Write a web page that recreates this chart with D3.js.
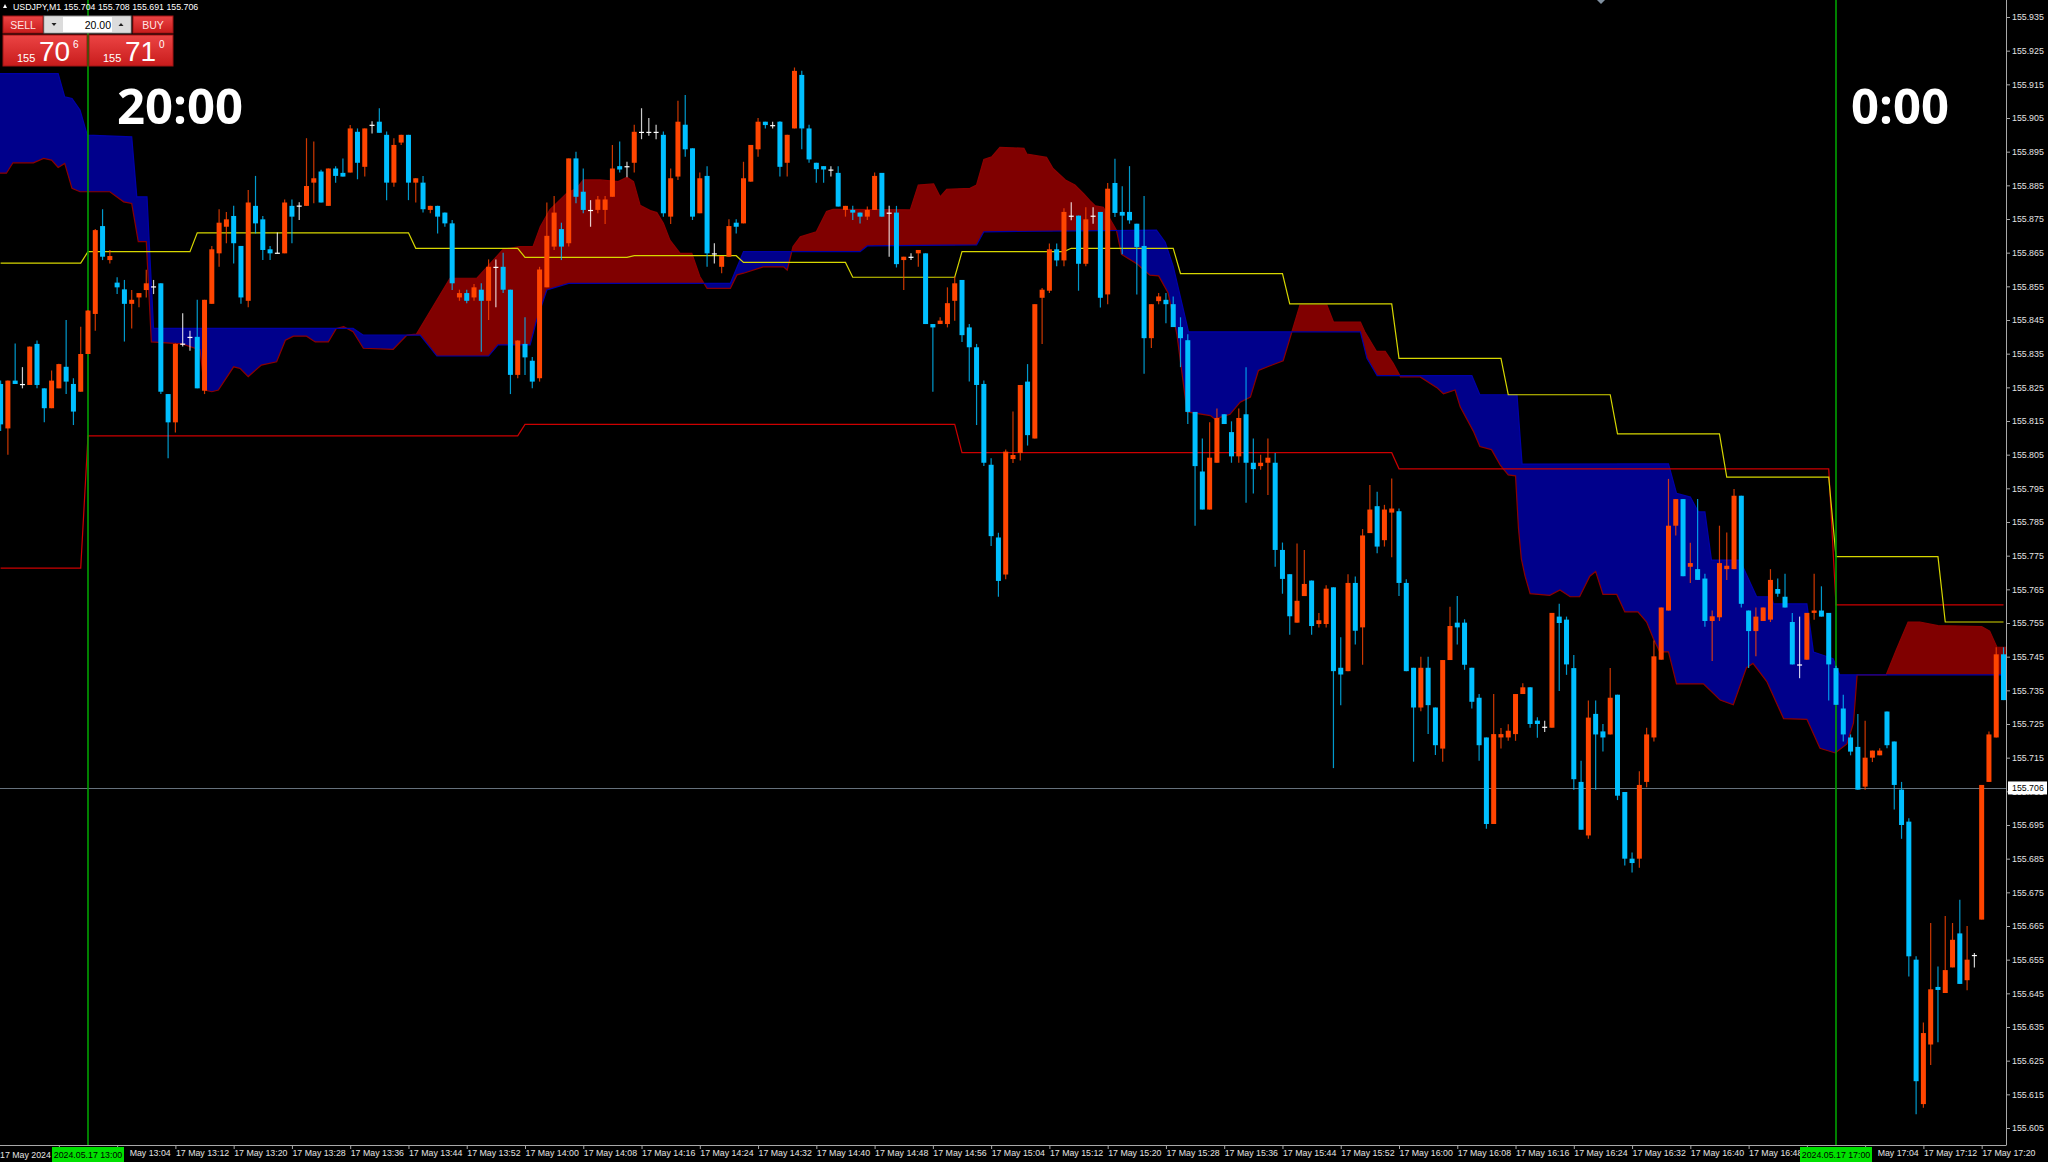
<!DOCTYPE html>
<html>
<head>
<meta charset="utf-8">
<title>USDJPY,M1</title>
<script src="https://d3js.org/d3.v7.min.js"></script>
<style type="text/css">
  body { margin: 0; background-color: #000000; }
  svg { display: block; }
  text { font-family: 'Liberation Sans', Arial, sans-serif; }
</style>
</head>
<body>
<div id="chart"></div>
<script>
  // ---- data ----
  var symbol = "USDJPY,M1";
  var lastQuote = [155.704, 155.708, 155.691, 155.706];   // O H L C of the live bar
  var bid = 155.706;
  var lotSize = "20.00";
  var sellQuote = ["155", "70", "6"];
  var buyQuote = ["155", "71", "0"];
  var firstBar = new Date(2024, 4, 17, 12, 48);   // one bar per minute from here

  var opens = [155.826,155.8128,155.827,155.826,155.8257,155.8379,155.8247,155.8188,155.8247,155.8311,155.826,155.8237,
    155.8349,155.8468,155.8729,155.8628,155.8561,155.8541,155.8498,155.8517,155.8539,155.855,155.8559,155.823,
    155.8146,155.838,155.84,155.84,155.824,155.8498,155.8648,155.8727,155.8759,155.867,155.8507,155.8789,
    155.8749,155.866,155.865,155.8648,155.8789,155.879,155.8789,155.8858,155.8891,155.8789,155.89,155.8887,
    155.8888,155.9009,155.8905,155.903,155.9039,155.9,155.8858,155.8977,155.9,155.8858,155.8858,155.8777,
    155.8789,155.8769,155.8737,155.8517,155.853,155.8517,155.854,155.8507,155.8608,155.8608,155.854,155.8287,
    155.8379,155.8329,155.8277,155.8547,155.8668,155.872,155.8678,155.893,155.8831,155.8777,155.8777,155.8777,
    155.8816,155.8907,155.8907,155.8917,155.9009,155.9009,155.9009,155.9,155.8757,155.8876,155.903,155.896,
    155.8767,155.8878,155.8648,155.8608,155.8638,155.8739,155.8737,155.8861,155.8957,155.9039,155.9029,155.9039,
    155.8917,155.9019,155.9178,155.9019,155.8917,155.8907,155.8897,155.8887,155.8777,155.8777,155.8769,155.8757,
    155.8777,155.8887,155.8769,155.8769,155.8628,155.8638,155.8648,155.8648,155.8438,155.8438,155.8438,155.8507,
    155.8569,155.8428,155.8369,155.826,155.802,155.7804,155.7694,155.8037,155.8055,155.8267,155.8098,155.8516,
    155.8537,155.866,155.8627,155.876,155.876,155.8617,155.876,155.8771,155.8526,155.8857,155.8771,155.8771,
    155.8736,155.867,155.8396,155.8506,155.851,155.8497,155.8429,155.839,155.8177,155.8,155.7887,155.8026,
    155.817,155.8117,155.8045,155.817,155.8026,155.8016,155.8026,155.8026,155.7767,155.7695,155.7551,155.763,
    155.7676,155.7547,155.7547,155.7656,155.7417,155.7407,155.7669,155.7537,155.7817,155.7897,155.7796,155.7878,
    155.7882,155.7669,155.7417,155.7299,155.7417,155.7299,155.7177,155.744,155.7551,155.7551,155.7417,155.7328,
    155.721,155.6953,155.721,155.721,155.722,155.7339,155.7359,155.726,155.7242,155.7239,155.7569,155.756,
    155.7416,155.7078,155.6919,155.728,155.7228,155.7219,155.7337,155.7048,155.685,155.685,155.7078,155.721,
    155.7441,155.7587,155.7839,155.7918,155.7717,155.771,155.7682,155.7556,155.7567,155.771,155.771,155.7928,
    155.7587,155.7526,155.7556,155.756,155.7651,155.7628,155.7553,155.7427,155.7441,155.758,155.7587,155.758,
    155.7416,155.7296,155.721,155.7182,155.7064,155.715,155.7157,155.7287,155.7198,155.7055,155.696,155.655,
    155.6121,155.6298,155.6469,155.6451,155.6527,155.6628,155.6489,155.6564,155.6669,155.7078,155.721,155.7457];

  var highs = [155.827,155.827,155.838,155.831,155.8371,155.8389,155.8247,155.83,155.832,155.845,155.8277,155.843,
    155.848,155.872,155.8779,155.8658,155.8577,155.8569,155.8539,155.853,155.8599,155.8569,155.8559,155.823,
    155.838,155.847,155.8418,155.851,155.851,155.867,155.8779,155.8771,155.8789,155.867,155.8836,155.8878,
    155.8759,155.867,155.871,155.8808,155.8808,155.88,155.899,155.898,155.8896,155.89,155.8907,155.893,
    155.9029,155.9019,155.9019,155.904,155.9079,155.901,155.899,155.9,155.9,155.8871,155.8878,155.8789,
    155.8789,155.8769,155.8747,155.854,155.854,155.8557,155.8559,155.863,155.863,155.865,155.854,155.839,
    155.8458,155.834,155.8608,155.8799,155.8818,155.8739,155.893,155.895,155.89,155.8806,155.8818,155.8818,
    155.897,155.898,155.892,155.903,155.9079,155.905,155.903,155.901,155.89,155.9101,155.9118,155.896,
    155.8888,155.8907,155.8678,155.864,155.8749,155.8749,155.892,155.897,155.905,155.9039,155.9039,155.904,
    155.9,155.92,155.919,155.903,155.8917,155.8907,155.8907,155.8907,155.8789,155.8789,155.8769,155.8787,
    155.8888,155.8887,155.8789,155.8789,155.8638,155.8648,155.8658,155.8648,155.8438,155.8458,155.8547,155.8579,
    155.8569,155.8438,155.8379,155.827,155.8039,155.7818,155.8065,155.8178,155.8257,155.8319,155.8497,155.8545,
    155.8677,155.8677,155.8782,155.88,155.876,155.8785,155.8785,155.8771,155.8857,155.8929,155.8847,155.8907,
    155.8736,155.8818,155.8497,155.853,155.853,155.852,155.8458,155.8408,155.8177,155.8098,155.8146,155.8187,
    155.817,155.8149,155.8187,155.831,155.8098,155.805,155.8098,155.8055,155.7789,155.7695,155.7786,155.7767,
    155.7676,155.758,155.7662,155.7656,155.7508,155.7695,155.7688,155.7829,155.796,155.794,155.7901,155.7979,
    155.789,155.768,155.7417,155.745,155.745,155.7299,155.744,155.7598,155.763,155.7561,155.7417,155.7339,
    155.721,155.7339,155.7238,155.7249,155.7339,155.7371,155.7359,155.727,155.726,155.758,155.7607,155.7569,
    155.7455,155.7141,155.732,155.732,155.725,155.7416,155.7337,155.7048,155.6868,155.711,155.7239,155.7498,
    155.7596,155.7978,155.7918,155.7918,155.7788,155.7918,155.7696,155.7587,155.7839,155.7819,155.7948,155.7928,
    155.7587,155.7596,155.7596,155.771,155.7682,155.7696,155.758,155.7569,155.758,155.7696,155.7659,155.758,
    155.7423,155.7337,155.7219,155.728,155.726,155.7171,155.7178,155.7287,155.7198,155.7078,155.697,155.656,
    155.6363,155.6659,155.653,155.668,155.6659,155.6728,155.665,155.657,155.7069,155.7228,155.7478,155.7478];

  var lows = [155.812,155.805,155.826,155.8247,155.8257,155.8247,155.8146,155.8188,155.8247,155.823,155.8138,155.8237,
    155.8349,155.8418,155.8628,155.8618,155.8527,155.8386,155.8425,155.8488,155.8517,155.8527,155.823,155.8039,
    155.8116,155.8371,155.8359,155.8247,155.823,155.8498,155.8608,155.8678,155.8618,155.8498,155.8488,155.8707,
    155.8628,155.8628,155.8648,155.8648,155.8678,155.8747,155.8789,155.8797,155.8799,155.8789,155.8858,155.8876,
    155.8888,155.8868,155.8876,155.9004,155.9006,155.8806,155.8846,155.897,155.8806,155.8799,155.8769,155.8767,
    155.8707,155.8727,155.8539,155.8507,155.85,155.8507,155.8356,155.845,155.8488,155.853,155.823,155.8277,
    155.8287,155.8247,155.8267,155.8547,155.8658,155.8628,155.8668,155.8797,155.8767,155.8727,155.8767,155.8735,
    155.8816,155.8888,155.8874,155.8888,155.8987,155.8997,155.8987,155.8757,155.8735,155.8866,155.8935,155.8747,
    155.8767,155.8608,155.8618,155.8589,155.8638,155.8707,155.8737,155.8861,155.8935,155.9019,155.9019,155.8876,
    155.8876,155.9019,155.8957,155.8917,155.8858,155.8858,155.8876,155.8787,155.8757,155.8747,155.8737,155.8747,
    155.8777,155.8757,155.8638,155.8606,155.8539,155.8628,155.8608,155.8438,155.8237,155.8438,155.8428,155.8448,
    155.8385,155.8267,155.8138,155.8016,155.7779,155.7628,155.768,155.8025,155.8033,155.8077,155.8098,155.8379,
    155.853,155.861,155.861,155.8746,155.8537,155.861,155.8736,155.8487,155.8497,155.8756,155.8645,155.8736,
    155.8526,155.829,155.8367,155.8497,155.844,155.8429,155.831,155.8141,155.7839,155.7887,155.7887,155.8026,
    155.8141,155.8026,155.8026,155.7907,155.7935,155.8005,155.793,155.7717,155.7637,155.7515,155.7551,155.763,
    155.7515,155.7537,155.7537,155.7119,155.7306,155.7407,155.7486,155.7426,155.7817,155.7757,155.7777,155.7745,
    155.763,155.7407,155.7138,155.7288,155.722,155.7158,155.7138,155.744,155.7486,155.7411,155.7296,155.7141,
    155.6939,155.6953,155.7177,155.72,155.72,155.7339,155.7239,155.7209,155.7226,155.7239,155.7348,155.7396,
    155.7055,155.6936,155.6909,155.7055,155.7168,155.7219,155.7024,155.683,155.6809,155.6823,155.7062,155.7198,
    155.7441,155.7587,155.781,155.7689,155.7669,155.7678,155.7539,155.7437,155.7556,155.7678,155.771,155.7596,
    155.7416,155.7451,155.7556,155.7553,155.7628,155.7596,155.7427,155.7386,155.7441,155.756,155.7569,155.732,
    155.7307,155.7198,155.7157,155.7055,155.7055,155.7137,155.7157,155.7178,155.6996,155.6909,155.65,155.6091,
    155.611,155.6237,155.6305,155.6451,155.6527,155.6478,155.6459,155.6527,155.6669,155.7078,155.721,155.7321];

  var closes = [155.814,155.827,155.826,155.826,155.8371,155.8257,155.8188,155.827,155.8319,155.8267,155.8178,155.8349,
    155.8478,155.8717,155.8638,155.864,155.8547,155.8498,155.851,155.853,155.8559,155.855,155.8237,155.8146,
    155.8379,155.838,155.84,155.8247,155.851,155.866,155.8739,155.8749,155.8678,155.8517,155.8799,155.8737,
    155.8658,155.8648,155.865,155.8799,155.8757,155.879,155.8848,155.8871,155.8799,155.89,155.8878,155.8876,
    155.9019,155.8917,155.9019,155.903,155.9006,155.8858,155.897,155.9,155.8858,155.8871,155.8779,155.8789,
    155.8757,155.8737,155.8559,155.853,155.8507,155.8547,155.8507,155.8608,155.8608,155.854,155.8287,155.8389,
    155.8339,155.8267,155.86,155.87,155.8769,155.8668,155.893,155.8816,155.8777,155.8777,155.8808,155.8808,
    155.89,155.8897,155.8907,155.9009,155.9009,155.9009,155.9009,155.8767,155.8871,155.9039,155.8957,155.8757,
    155.8871,155.8648,155.8648,155.864,155.8729,155.8727,155.8871,155.897,155.9039,155.9029,155.9029,155.8905,
    155.9,155.919,155.9019,155.8927,155.8898,155.8897,155.8897,155.8787,155.8789,155.8769,155.8757,155.8777,
    155.8878,155.8757,155.8769,155.8616,155.8638,155.8638,155.8658,155.8438,155.8428,155.8448,155.85,155.8559,
    155.8405,155.8369,155.8257,155.8026,155.7808,155.7675,155.8059,155.8049,155.8257,155.8108,155.8497,155.854,
    155.866,155.8627,155.8771,155.876,155.8617,155.8749,155.876,155.8516,155.884,155.8768,155.876,155.8746,
    155.8667,155.8396,155.8497,155.852,155.8497,155.8429,155.8396,155.8177,155.8016,155.7887,155.8041,155.8159,
    155.8141,155.8045,155.8159,155.8026,155.8007,155.8026,155.8041,155.7767,155.7681,155.757,155.7616,155.7666,
    155.7541,155.7558,155.7652,155.7407,155.7397,155.7669,155.7527,155.781,155.7887,155.7777,155.7887,155.789,
    155.7669,155.7407,155.7299,155.7417,155.7306,155.7187,155.744,155.7541,155.7537,155.7426,155.7316,155.7187,
    155.6953,155.722,155.722,155.723,155.7339,155.7359,155.725,155.725,155.7242,155.758,155.755,155.7427,
    155.7086,155.6936,155.7269,155.7219,155.721,155.7328,155.7037,155.685,155.6837,155.7069,155.7219,155.7451,
    155.7596,155.7839,155.7918,155.7689,155.7728,155.7678,155.7556,155.757,155.7728,155.772,155.7928,155.7607,
    155.7526,155.7569,155.7596,155.7678,155.7637,155.7596,155.7427,155.7427,155.758,155.7587,155.7569,155.7427,
    155.7307,155.7219,155.7168,155.7055,155.715,155.7171,155.7171,155.7187,155.7069,155.695,155.656,155.6189,
    155.6332,155.6462,155.646,155.6519,155.6609,155.6478,155.655,155.6564,155.7069,155.7219,155.7457,155.7321];

  // M15 Ichimoku lines, one value per 15-minute block starting 12:45
  var blockStart = new Date(2024, 4, 17, 12, 45);
  var tenkan = [155.8619,155.8653,155.8709,155.8709,155.8663,155.8636,155.8641,155.8621,155.8577,155.8653,
    155.8663,155.8588,155.8498,155.8336,155.8228,155.8112,155.7983,155.7747,155.7553];
  var kijun = [155.7713,155.8106,155.8106,155.8106,155.8106,155.814,155.814,155.814,155.814,155.8056,
    155.8056,155.8056,155.8056,155.8008,155.8008,155.8008,155.8008,155.7604,155.7604];

  // cloud edges, minutes after 13:00 and price
  var spanAMin = [-12.5,-11.2,-10.3,-7.5,-6.1,-5,-4.1,-3.2,-2.2,-1.1,3,4.9,6,6.9,8,8.7,12.9,15.4,16,17,17.9,20,20.9,22,23.8,25.9,
    27.1,28.2,30,31.2,33,34.1,35.1,36.4,37.8,41.9,43.8,45.1,49.7,53.4,57,59.3,61.1,62.1,63.4,65.7,67.1,68,70.3,72.8,74,74.9,
    75.8,77.2,78.1,79,79.9,81.3,82.9,84,85,88.2,89.1,90,92.7,95.5,96,96.8,97.8,100,101.4,102.3,112.9,114,116.1,117,117.9,
    121.1,122,123,124.1,125.2,128.5,128.9,131.6,132.5,134.2,135.5,136.7,137.6,138.3,139.4,141.2,141.9,144,145.8,147,148.3,
    149.5,150.2,150.9,154.1,154.7,156.8,158.2,159.6,160.7,162.3,164.1,164.8,165.3,166.4,170.1,171,174.7,175.3,176.9,178.1,
    179.2,180.2,182.9,185.2,186.1,187.7,188.4,190.2,191.1,192.7,193.9,195,196,196.4,196.8,197.3,198,200.7,202.1,203.5,
    204.8,206.2,207,208,209.9,211,212.8,214,214.9,215.8,217,218.1,221.8,224.1,225.9,227.7,228.6,230.5,232.8,236,237.8,
    239.9,241.5,242.4,242.9,246.9,248.3,249.9,251.5,254,260,261.1,262.1,264];
  var spanA = [155.8886,155.8886,155.8917,155.8917,155.893,155.8925,155.8903,155.8915,155.8841,155.8831,155.8831,155.8801,
    155.8796,155.8683,155.8683,155.8385,155.8379,155.8361,155.8242,155.8237,155.8242,155.8311,155.8306,155.8282,155.8316,
    155.8326,155.839,155.8402,155.8402,155.8385,155.8385,155.8425,155.843,155.8415,155.8366,155.8363,155.8405,155.8408,
    155.8574,155.8574,155.866,155.8668,155.8668,155.8727,155.8777,155.8826,155.8841,155.8866,155.8866,155.8861,155.8874,
    155.8861,155.8791,155.8775,155.8769,155.8737,155.8687,155.8648,155.8648,155.8579,155.8544,155.8544,155.8584,155.8589,
    155.8608,155.8608,155.8598,155.8668,155.8697,155.8712,155.8772,155.8779,155.8777,155.8851,155.8854,155.8816,155.8838,
    155.8841,155.8851,155.8927,155.8935,155.8963,155.896,155.8943,155.8933,155.89,155.8866,155.8851,155.8825,155.8804,
    155.8789,155.8785,155.8717,155.8645,155.8617,155.8583,155.8581,155.853,155.8408,155.8293,155.8177,155.8166,155.8156,
    155.817,155.8206,155.8221,155.83,155.8314,155.8329,155.8379,155.8415,155.8494,155.8494,155.8444,155.8444,155.8415,
    155.8357,155.8357,155.8321,155.8281,155.8281,155.8249,155.8231,155.8242,155.8192,155.812,155.8074,155.8065,155.8019,
    155.799,155.7987,155.7832,155.774,155.769,155.7637,155.7632,155.7648,155.7628,155.7628,155.7689,155.7703,155.7635,
    155.7635,155.7583,155.7583,155.7553,155.7505,155.7464,155.7464,155.7369,155.7369,155.7321,155.7307,155.7417,155.743,
    155.7376,155.7266,155.7264,155.7178,155.7164,155.7191,155.7253,155.7396,155.7396,155.7471,155.7553,155.7553,155.7542,
    155.7539,155.7526,155.7478,155.7478];
  var spanBMin = [-12.5,-4.1,-3.2,-2.2,-1.1,-0.1,6,6.7,8.1,8.4,9,36.4,37.8,45.6,47.9,55,56.3,60.7,61.6,63,66,88.2,90,106,107,
    122,123,146.7,147.9,149,150.4,151.1,174.7,175.6,177,190,191.1,196.2,196.9,217,218.1,220,221.1,222,222.9,226.8,229.1,
    231.2,231.4,236,236.9,239.6,240.5,264];
  var spanB = [155.9182,155.9182,155.9113,155.9108,155.9074,155.8999,155.8994,155.8816,155.8816,155.8683,155.8425,155.8425,
    155.8405,155.8405,155.8343,155.8343,155.8376,155.8376,155.845,155.8539,155.8559,155.8559,155.8653,155.8653,155.867,
    155.8673,155.8712,155.8717,155.8681,155.8609,155.848,155.8415,155.8415,155.8336,155.8285,155.8285,155.8228,155.8228,
    155.8022,155.8023,155.7935,155.7924,155.788,155.788,155.7737,155.7737,155.7628,155.7628,155.7607,155.7607,155.7464,
    155.7444,155.7396,155.7396];

  var priceTicks = [155.605,155.615,155.625,155.635,155.645,155.655,155.665,155.675,155.685,155.695,155.705,155.715,
    155.725,155.735,155.745,155.755,155.765,155.775,155.785,155.795,155.805,155.815,155.825,155.835,155.845,155.855,
    155.865,155.875,155.885,155.895,155.905,155.915,155.925,155.935];
  var markerTimes = [new Date(2024, 4, 17, 13, 0), new Date(2024, 4, 17, 17, 0)];
  var markerLabels = ["2024.05.17 13:00", "2024.05.17 17:00"];
  var sessionLabels = ["20:00", "0:00"];

  // ---- layout ----
  var W = 2048, H = 1162;
  var plotRight = 2006, plotBottom = 1145;
  var minute = 60000;
  var axisFont = "8.8px";

  var svg = d3.select("#chart").append("svg").attr("width", W).attr("height", H);
  svg.append("rect").attr("width", W).attr("height", H).attr("fill", "#000000");
  var defs = svg.append("defs");
  defs.append("clipPath").attr("id", "plotclip").append("rect")
    .attr("x", 0).attr("y", 0).attr("width", plotRight).attr("height", plotBottom);

  var x = d3.scaleTime().domain(markerTimes).range([88, 1836]);
  var y = d3.scaleLinear().domain([155.605, 155.935]).range([1128, 17]);

  var bars = opens.map(function (o, i) {
    return { t: new Date(+firstBar + i * minute), o: o, h: highs[i], l: lows[i], c: closes[i] };
  });

  var plot = svg.append("g").attr("clip-path", "url(#plotclip)");

  // ---- Ichimoku cloud ----
  var aAt = d3.scaleLinear().domain(spanAMin).range(spanA).clamp(true);
  var bAt = d3.scaleLinear().domain(spanBMin).range(spanB).clamp(true);
  var grid = d3.range(-12.5, 264.01, 0.1);
  var t13 = +markerTimes[0];
  function xm(m) { return x(new Date(t13 + m * minute)); }

  plot.append("path").datum(grid)
    .attr("fill", "#800000")
    .attr("d", d3.area().x(xm)
      .y0(function (m) { return y(bAt(m)); })
      .y1(function (m) { return y(Math.max(aAt(m), bAt(m))); }));
  plot.append("path").datum(grid)
    .attr("fill", "#00008B")
    .attr("d", d3.area().x(xm)
      .y0(function (m) { return y(aAt(m)); })
      .y1(function (m) { return y(Math.max(aAt(m), bAt(m))); }));
  plot.append("path").datum(d3.range(spanAMin.length))
    .attr("fill", "none").attr("stroke", "#8B0000").attr("stroke-width", 1.2)
    .attr("d", d3.line().x(function (i) { return xm(spanAMin[i]); }).y(function (i) { return y(spanA[i]); }));
  plot.append("path").datum(d3.range(spanBMin.length))
    .attr("fill", "none").attr("stroke", "#0000A8").attr("stroke-width", 1.2)
    .attr("d", d3.line().x(function (i) { return xm(spanBMin[i]); }).y(function (i) { return y(spanB[i]); }));

  // ---- tenkan / kijun, stepped by M15 block ----
  function block(d) { return Math.floor((d.t - blockStart) / (15 * minute)); }
  plot.append("path").datum(bars)
    .attr("fill", "none").attr("stroke", "#CC0000").attr("stroke-width", 1.2)
    .attr("d", d3.line().x(function (d) { return x(d.t); }).y(function (d) { return y(kijun[block(d)]); }));
  plot.append("path").datum(bars)
    .attr("fill", "none").attr("stroke", "#D6D600").attr("stroke-width", 1.2)
    .attr("d", d3.line().x(function (d) { return x(d.t); }).y(function (d) { return y(tenkan[block(d)]); }));

  // ---- bid line ----
  plot.append("line")
    .attr("x1", 0).attr("x2", plotRight).attr("y1", Math.round(y(bid)) + 0.5).attr("y2", Math.round(y(bid)) + 0.5)
    .attr("stroke", "#66717C").attr("stroke-width", 1);

  // ---- vertical markers ----
  plot.selectAll("line.marker").data(markerTimes).enter().append("line")
    .attr("class", "marker")
    .attr("x1", function (d) { return x(d); }).attr("x2", function (d) { return x(d); })
    .attr("y1", 0).attr("y2", plotBottom)
    .attr("stroke", "#00A000").attr("stroke-width", 1.6);

  // ---- candles ----
  function colour(d) { return d.c > d.o ? "#FF4500" : (d.c < d.o ? "#00BFFF" : "#FFFFFF"); }
  var candle = plot.selectAll("g.bar").data(bars).enter().append("g").attr("class", "bar");
  candle.append("line")
    .attr("x1", function (d) { return x(d.t); }).attr("x2", function (d) { return x(d.t); })
    .attr("y1", function (d) { return y(d.h); }).attr("y2", function (d) { return y(d.l); })
    .attr("stroke", colour).attr("stroke-width", 1.2).attr("stroke-opacity", 0.8);
  candle.append("rect")
    .attr("x", function (d) { return x(d.t) - 2.5; })
    .attr("width", 5)
    .attr("y", function (d) { return y(Math.max(d.o, d.c)); })
    .attr("height", function (d) { return Math.max(1.2, Math.abs(y(d.o) - y(d.c))); })
    .attr("fill", colour);

  // session labels
  svg.selectAll("text.session").data(sessionLabels).enter().append("text")
    .attr("class", "session")
    .attr("x", function (d, i) { return i === 0 ? 117 : 1851; })
    .attr("y", 124)
    .attr("fill", "#FFFFFF")
    .style("font-family", "'Open Sans', 'DejaVu Sans', sans-serif")
    .style("font-weight", "bold").style("font-size", "49px")
    .text(function (d) { return d; });

  // ---- price axis ----
  var yAxis = svg.append("g").attr("transform", "translate(" + plotRight + ",0)")
    .call(d3.axisRight(y).tickValues(priceTicks).tickFormat(d3.format(".3f")).tickSize(4).tickPadding(2));
  yAxis.select(".domain").remove();
  yAxis.selectAll(".tick line").attr("stroke", "#A8A8A8");
  yAxis.selectAll(".tick text").attr("fill", "#E4E4E4").style("font-size", axisFont)
    .style("font-family", "'Liberation Sans', Arial, sans-serif");

  // ---- time axis ----
  var fmt = d3.timeFormat("%d %b %H:%M");
  var tickBars = bars.filter(function (d, i) { return i >= 8 && (i - 8) % 8 === 0; });
  var xAxis = svg.append("g").attr("transform", "translate(0," + plotBottom + ")")
    .call(d3.axisBottom(x).tickValues(tickBars.map(function (d) { return d.t; })).tickFormat(fmt).tickSize(4));
  xAxis.select(".domain").remove();
  xAxis.selectAll(".tick line").attr("stroke", "#A8A8A8");
  xAxis.selectAll(".tick text").attr("fill", "#E4E4E4").attr("text-anchor", "start")
    .attr("x", 0).attr("y", 4).attr("dy", "0.75em")
    .style("font-size", axisFont).style("font-family", "'Liberation Sans', Arial, sans-serif");
  svg.append("text").attr("x", 0).attr("y", 1158).attr("fill", "#E4E4E4")
    .style("font-size", axisFont).text(d3.timeFormat("%d %b %Y")(firstBar));

  // labels under the marker boxes: hide those fully covered, trim the day off those half covered
  xAxis.selectAll(".tick text").each(function (d) {
    var self = d3.select(this);
    markerTimes.forEach(function (m) {
      var gap = (d - m) / minute;
      if (gap < 0 && gap > -8) self.remove();
      else if (gap > 0 && gap < 8) self.attr("x", 12).text(fmt(d).replace(/^\d+ /, ""));
    });
  });

  // frame lines
  svg.append("line").attr("x1", plotRight + 0.5).attr("x2", plotRight + 0.5).attr("y1", 0).attr("y2", plotBottom)
    .attr("stroke", "#A8A8A8");
  svg.append("line").attr("x1", 0).attr("x2", plotRight + 0.5).attr("y1", plotBottom + 0.5).attr("y2", plotBottom + 0.5)
    .attr("stroke", "#A8A8A8");

  // marker date boxes
  markerTimes.forEach(function (d, i) {
    var cx = x(d);
    svg.append("rect").attr("x", cx - 36).attr("y", 1147).attr("width", 72).attr("height", 15).attr("fill", "#00E000");
    svg.append("text").attr("x", cx).attr("y", 1158).attr("text-anchor", "middle").attr("fill", "#000000")
      .style("font-size", axisFont).text(markerLabels[i]);
  });

  // bid label on price axis
  svg.append("rect").attr("x", plotRight + 2).attr("y", y(bid) - 6.5).attr("width", 39).attr("height", 13)
    .attr("fill", "#FFFFFF");
  svg.append("text").attr("x", plotRight + 6).attr("y", y(bid) + 3.5).attr("fill", "#000000")
    .style("font-size", axisFont).text(d3.format(".3f")(bid));

  // small object marker at top
  svg.append("path").attr("d", "M1597,0 L1605,0 L1601,4 Z").attr("fill", "#8090A0");

  // ---- header and one-click panel ----
  svg.append("path").attr("d", "M3,8 L7,8 L5,4 Z").attr("fill", "#FFFFFF");
  svg.append("text").attr("x", 13).attr("y", 10).attr("fill", "#FFFFFF").style("font-size", "8.8px")
    .text(symbol + "  " + lastQuote.map(d3.format(".3f")).join(" "));

  var g1 = defs.append("linearGradient").attr("id", "redbtn").attr("x1", 0).attr("y1", 0).attr("x2", 0).attr("y2", 1);
  g1.append("stop").attr("offset", "0%").attr("stop-color", "#EC4444");
  g1.append("stop").attr("offset", "100%").attr("stop-color", "#C81C1C");

  var panel = svg.append("g");
  panel.append("rect").attr("x", 3).attr("y", 16).attr("width", 40).attr("height", 17)
    .attr("fill", "url(#redbtn)").attr("stroke", "#A01414");
  panel.append("rect").attr("x", 133).attr("y", 16).attr("width", 40).attr("height", 17)
    .attr("fill", "url(#redbtn)").attr("stroke", "#A01414");
  panel.append("text").attr("x", 23).attr("y", 28.5).attr("text-anchor", "middle").attr("fill", "#FFE4E4")
    .style("font-size", "10.5px").text("SELL");
  panel.append("text").attr("x", 153).attr("y", 28.5).attr("text-anchor", "middle").attr("fill", "#FFE4E4")
    .style("font-size", "10.5px").text("BUY");
  panel.append("rect").attr("x", 44).attr("y", 16).attr("width", 87).attr("height", 17)
    .attr("fill", "#FFFFFF").attr("stroke", "#8C8C8C");
  panel.append("rect").attr("x", 45).attr("y", 17).attr("width", 18).attr("height", 15).attr("fill", "#DCDCDC");
  panel.append("rect").attr("x", 112).attr("y", 17).attr("width", 18).attr("height", 15).attr("fill", "#DCDCDC");
  panel.append("path").attr("d", "M51.5,23 L56.5,23 L54,26 Z").attr("fill", "#202020");
  panel.append("path").attr("d", "M118.5,26 L123.5,26 L121,23 Z").attr("fill", "#202020");
  panel.append("text").attr("x", 111).attr("y", 28.5).attr("text-anchor", "end").attr("fill", "#000000")
    .style("font-size", "10.5px").text(lotSize);

  [[3, sellQuote], [89, buyQuote]].forEach(function (q) {
    var x0 = q[0], parts = q[1];
    panel.append("rect").attr("x", x0).attr("y", 35).attr("width", 84).attr("height", 31)
      .attr("fill", "url(#redbtn)").attr("stroke", "#A01414");
    panel.append("text").attr("x", x0 + 14).attr("y", 62).attr("fill", "#FFFFFF").style("font-size", "11px").text(parts[0]);
    panel.append("text").attr("x", x0 + 36).attr("y", 61).attr("fill", "#FFFFFF").style("font-size", "28px").text(parts[1]);
    panel.append("text").attr("x", x0 + 70).attr("y", 48).attr("fill", "#FFFFFF").style("font-size", "10px").text(parts[2]);
  });
</script>
</body>
</html>
